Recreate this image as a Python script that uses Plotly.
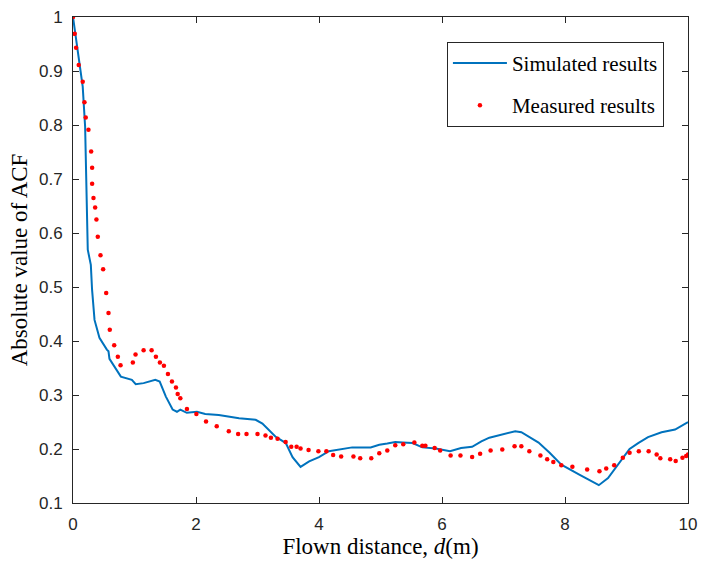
import plotly.graph_objects as go

# Simulated results (blue line)
sim_x = [0, 0.158, 0.197, 0.24, 0.29, 0.31, 0.35, 0.43, 0.55, 0.577, 0.593, 0.675, 0.778,
         0.957, 1.02, 1.148, 1.338, 1.41, 1.51, 1.62, 1.69, 1.745, 1.85, 2.016, 2.15, 2.37,
         2.70, 2.97, 3.08, 3.29, 3.46, 3.57, 3.70, 3.84, 4.0, 4.16, 4.38, 4.54, 4.84, 4.98,
         5.11, 5.24, 5.36, 5.52, 5.68, 5.90, 6.13, 6.31, 6.49, 6.64, 6.77, 6.93, 7.19, 7.29,
         7.57, 7.75, 7.94, 8.24, 8.55, 8.70, 8.84, 9.05, 9.19, 9.35, 9.57, 9.79, 10.0]
sim_y = [1.0, 0.871, 0.797, 0.569, 0.541, 0.495, 0.439, 0.406, 0.384, 0.381, 0.367, 0.353, 0.334,
         0.328, 0.320, 0.322, 0.328, 0.325, 0.297, 0.273, 0.269, 0.273, 0.267, 0.269, 0.265, 0.263,
         0.257, 0.254, 0.247, 0.223, 0.211, 0.185, 0.167, 0.177, 0.185, 0.196, 0.200, 0.203, 0.203, 0.208,
         0.210, 0.213, 0.212, 0.211, 0.203, 0.201, 0.196, 0.202, 0.204, 0.214, 0.221, 0.226, 0.233, 0.231,
         0.212, 0.193, 0.171, 0.152, 0.133, 0.146, 0.168, 0.200, 0.211, 0.222, 0.231, 0.236, 0.250]

# Measured results (red dots)
meas_x = [0, 0.028, 0.05, 0.093, 0.158, 0.186, 0.207, 0.251, 0.295, 0.311, 0.311, 0.333, 0.36,
          0.381, 0.403, 0.447, 0.49, 0.54, 0.577, 0.598, 0.67, 0.729, 0.773, 0.973, 1.017, 1.148,
          1.278, 1.348, 1.413, 1.478, 1.544, 1.609, 1.674, 1.702, 1.745, 1.853, 2.006, 2.163, 2.337,
          2.533, 2.685, 2.821, 3.0, 3.13, 3.218, 3.326, 3.457, 3.549, 3.636, 3.70, 3.83, 3.99, 4.12,
          4.23, 4.36, 4.56, 4.67, 4.85, 4.98, 5.11, 5.24, 5.37, 5.55, 5.68, 5.73, 5.88, 5.97, 6.14,
          6.30, 6.49, 6.62, 6.79, 6.98, 7.18, 7.29, 7.42, 7.60, 7.71, 7.81, 7.94, 8.12, 8.36, 8.56,
          8.67, 8.80, 8.94, 9.05, 9.20, 9.36, 9.49, 9.55, 9.71, 9.80, 9.91, 9.97, 10.0]
meas_y = [1.0, 0.969, 0.943, 0.911, 0.880, 0.842, 0.814, 0.791, 0.751, 0.721, 0.691, 0.665, 0.647,
          0.625, 0.593, 0.559, 0.533, 0.489, 0.452, 0.421, 0.392, 0.371, 0.355, 0.360, 0.375, 0.383,
          0.383, 0.371, 0.360, 0.354, 0.339, 0.325, 0.314, 0.302, 0.294, 0.274, 0.265, 0.251, 0.242,
          0.233, 0.228, 0.228, 0.228, 0.225, 0.221, 0.219, 0.213, 0.204, 0.204, 0.201, 0.198, 0.196, 0.196,
          0.189, 0.186, 0.186, 0.183, 0.183, 0.192, 0.197, 0.207, 0.209, 0.212, 0.206, 0.206, 0.202, 0.197, 0.188,
          0.188, 0.185, 0.191, 0.197, 0.199, 0.205, 0.205, 0.196, 0.188, 0.181, 0.176, 0.170, 0.167, 0.162, 0.159,
          0.164, 0.170, 0.184, 0.193, 0.196, 0.196, 0.190, 0.183, 0.181, 0.178, 0.184, 0.187, 0.190]

x_ticks = [0, 2, 4, 6, 8, 10]
y_ticks = [0.1, 0.2, 0.3, 0.4, 0.5, 0.6, 0.7, 0.8, 0.9, 1.0]
y_ticktext = ["0.1", "0.2", "0.3", "0.4", "0.5", "0.6", "0.7", "0.8", "0.9", "1"]

SERIF = "Liberation Serif"
SANS = "Liberation Sans, Arial, sans-serif"
AX = "#262626"

fig = go.Figure()
fig.add_trace(go.Scatter(x=sim_x, y=sim_y, mode="lines", name="Simulated results",
                         legendgroup="a",
                         line=dict(color="#0072BD", width=2)))
fig.add_trace(go.Scatter(x=meas_x, y=meas_y, mode="markers", name="Measured results",
                         legendgroup="b",
                         marker=dict(color="#FF0000", size=4.5)))

fig.update_layout(
    width=701, height=563,
    margin=dict(l=73, r=13, t=17, b=60),
    paper_bgcolor="white", plot_bgcolor="white",
    showlegend=True,
    legend=dict(x=0.608, y=0.949, xanchor="left", yanchor="top",
                bordercolor=AX, borderwidth=1, bgcolor="white",
                font=dict(family=SERIF, size=21, color="#000000"),
                traceorder="grouped", tracegroupgap=12, itemwidth=54),
    xaxis=dict(range=[0, 10], tickvals=x_ticks, ticks="inside", ticklen=6,
               tickcolor=AX, showline=True, linecolor=AX, linewidth=1, mirror="ticks",
               showgrid=False, zeroline=False, automargin=False,
               tickfont=dict(family=SANS, size=17, color=AX), ticklabelstandoff=6,
               title=dict(text="Flown distance, <i>d</i>(m)",
                          font=dict(family=SERIF, size=23, color="#000000"), standoff=4)),
    yaxis=dict(range=[0.1, 1.0], tickvals=y_ticks, ticktext=y_ticktext, ticks="inside", ticklen=6,
               tickcolor=AX, showline=True, linecolor=AX, linewidth=1, mirror="ticks",
               showgrid=False, zeroline=False, automargin=False,
               tickfont=dict(family=SANS, size=17, color=AX), ticklabelstandoff=6,
               title=dict(text="Absolute value of ACF",
                          font=dict(family=SERIF, size=23, color="#000000"), standoff=4)),
)

fig.write_html("out.html", config={"displayModeBar": False},
               post_script="document.body.style.margin='0';")
